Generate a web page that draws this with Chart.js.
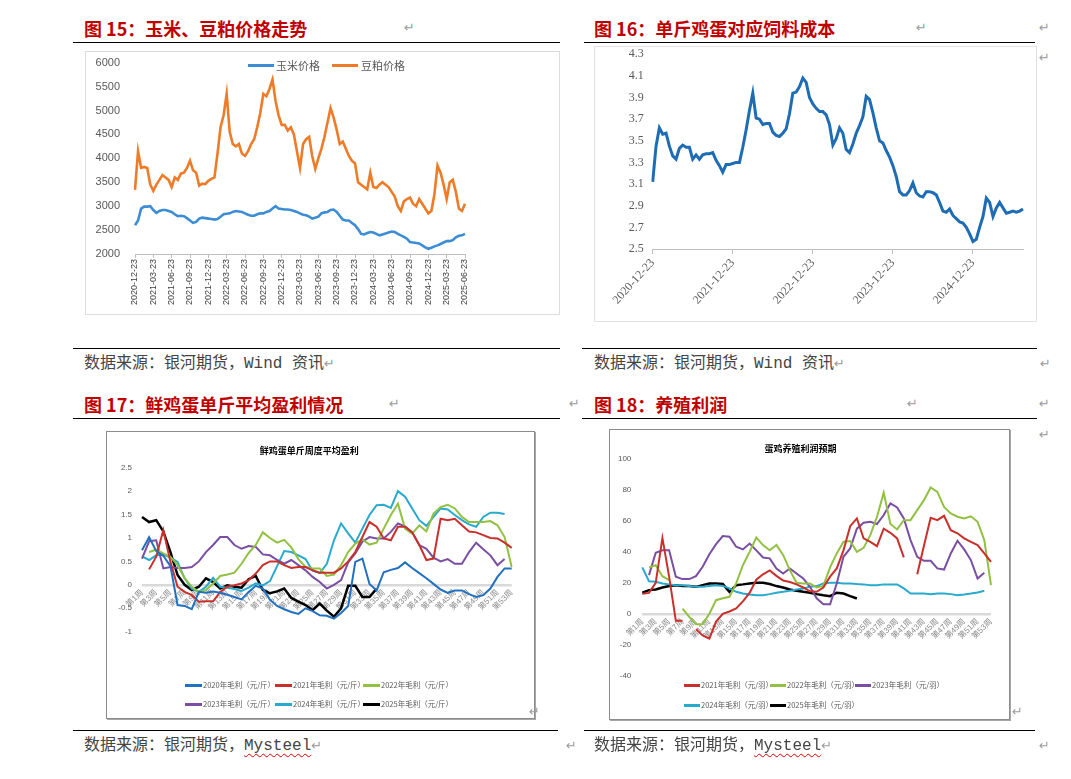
<!DOCTYPE html>
<html lang="zh">
<head>
<meta charset="utf-8">
<title>图15-18</title>
<script src="https://cdn.jsdelivr.net/npm/chart.js@4.4.1/dist/chart.umd.min.js"></script>
<style>
  body { margin: 0; background: #fff; }
  #page { position: relative; width: 1071px; height: 779px; overflow: hidden; font-family: "Noto Sans CJK SC", sans-serif; }
  .ttl { position: absolute; font-size: 18px; line-height: 24px; font-weight: bold; color: #c00000; white-space: nowrap; }
  .src { position: absolute; font-size: 16px; line-height: 22px; color: #444; white-space: nowrap; font-family: "Liberation Mono", "Noto Sans CJK SC", monospace; }
  .rule { position: absolute; height: 1px; background: #000; }
  .ret { position: absolute; font-size: 13px; line-height: 16px; color: #9b9b9b; font-family: "DejaVu Sans", sans-serif; }
  .src .ret { position: static; }
  .box { position: absolute; box-sizing: border-box; background: #fff; }
  .box canvas { display: block; }
  .lgl { position: absolute; height: 3px; }
  .lgt { position: absolute; color: #595959; white-space: nowrap; line-height: 12px; }
  .wavy { text-decoration: underline wavy #e00000; text-underline-offset: 3px; text-decoration-thickness: 1px; }
</style>
</head>
<body>
<div id="page">
  <!-- 上排 -->
  <div class="ttl" style="left:84px;top:16px">图 15：玉米、豆粕价格走势</div>
  <div class="ttl" style="left:594px;top:16px">图 16：单斤鸡蛋对应饲料成本</div>
  <div class="ret" style="left:404px;top:20px">↵</div>
  <div class="ret" style="left:916px;top:20px">↵</div>
  <div class="ret" style="left:1039px;top:20px">↵</div>
  <div class="ret" style="left:1039px;top:50px">↵</div>
  <div class="rule" style="left:73px;top:42px;width:487px"></div>
  <div class="rule" style="left:584px;top:42px;width:451px"></div>

  <div class="box" style="left:85px;top:51px;width:475px;height:264px;border:1px solid #dcdcdc">
    <canvas id="c15" width="473" height="262"></canvas>
  </div>
  <div class="box" style="left:594px;top:46px;width:443px;height:276px;border:1px solid #e2e2e2">
    <canvas id="c16" width="441" height="274"></canvas>
  </div>

  <div class="lgl" style="left:248px;top:63.5px;width:26px;background:#3c8dd6"></div>
  <div class="lgt" style="left:276px;top:59px;font-size:11px">玉米价格</div>
  <div class="lgl" style="left:332px;top:63.5px;width:26px;background:#ee7b28"></div>
  <div class="lgt" style="left:361px;top:59px;font-size:11px">豆粕价格</div>

  <div class="rule" style="left:73px;top:348px;width:487px"></div>
  <div class="rule" style="left:582px;top:348px;width:455px"></div>
  <div class="src" style="left:84px;top:353px">数据来源：银河期货，Wind 资讯<span class="ret">↵</span></div>
  <div class="src" style="left:594px;top:353px">数据来源：银河期货，Wind 资讯<span class="ret">↵</span></div>
  <div class="ret" style="left:1040px;top:356px">↵</div>

  <!-- 下排 -->
  <div class="ttl" style="left:84px;top:392px">图 17：鲜鸡蛋单斤平均盈利情况</div>
  <div class="ttl" style="left:594px;top:392px">图 18：养殖利润</div>
  <div class="ret" style="left:389px;top:396px">↵</div>
  <div class="ret" style="left:569px;top:396px">↵</div>
  <div class="ret" style="left:907px;top:396px">↵</div>
  <div class="ret" style="left:1039px;top:396px">↵</div>
  <div class="ret" style="left:1039px;top:427px">↵</div>
  <div class="rule" style="left:73px;top:418px;width:487px"></div>
  <div class="rule" style="left:582px;top:418px;width:455px"></div>

  <div class="box" style="left:106px;top:431px;width:429px;height:288px;border:1px solid #8c8c8c;box-shadow:1px 1px 0 #a6a6a6">
    <canvas id="c17" width="427" height="286"></canvas>
  </div>
  <div class="box" style="left:609px;top:429px;width:401px;height:291px;border:1px solid #8c8c8c;box-shadow:1px 1px 0 #a6a6a6">
    <canvas id="c18" width="399" height="289"></canvas>
  </div>
  <div class="ret" style="left:529px;top:704px">↵</div>
  <div class="ret" style="left:1012px;top:704px">↵</div>

  <div id="lg17"></div>
  <div id="lg18"></div>

  <div class="rule" style="left:73px;top:730px;width:485px"></div>
  <div class="rule" style="left:584px;top:730px;width:451px"></div>
  <div class="src" style="left:84px;top:735px">数据来源：银河期货，<span class="wavy">Mysteel</span><span class="ret">↵</span></div>
  <div class="src" style="left:594px;top:735px">数据来源：银河期货，<span class="wavy">Mysteel</span><span class="ret">↵</span></div>
  <div class="ret" style="left:566px;top:738px">↵</div>
  <div class="ret" style="left:1039px;top:738px">↵</div>
</div>

<script>
// 图15 玉米、豆粕（半月取点，2020-12-23 ~ 2025-06-23）
const quarterTicks = ['2020-12-23', '2021-03-23', '2021-06-23', '2021-09-23', '2021-12-23',
    '2022-03-23', '2022-06-23', '2022-09-23', '2022-12-23', '2023-03-23', '2023-06-23',
    '2023-09-23', '2023-12-23', '2024-03-23', '2024-06-23', '2024-09-23', '2024-12-23',
    '2025-03-23', '2025-06-23'];
const cornPrice = [2600, 2700, 2950, 2990, 2990, 3000, 2920, 2860, 2900, 2920,
    2920, 2900, 2880, 2830, 2790, 2800, 2790, 2750, 2700, 2650,
    2670, 2740, 2760, 2750, 2740, 2730, 2720, 2730, 2780, 2830,
    2840, 2850, 2880, 2900, 2890, 2880, 2850, 2820, 2800, 2800,
    2830, 2850, 2850, 2880, 2900, 2950, 3000, 2950, 2940, 2930,
    2930, 2920, 2900, 2880, 2850, 2820, 2810, 2780, 2740, 2760,
    2780, 2850, 2870, 2880, 2920, 2930, 2880, 2800, 2720, 2700,
    2700, 2650, 2600, 2520, 2420, 2410, 2440, 2460, 2450, 2420,
    2390, 2410, 2430, 2450, 2470, 2460, 2420, 2390, 2360, 2320,
    2250, 2240, 2230, 2220, 2180, 2140, 2110, 2130, 2160, 2180,
    2210, 2240, 2270, 2270, 2290, 2350, 2380, 2390, 2420];
const mealPrice = [3340, 4150, 3800, 3820, 3800, 3450, 3320, 3450, 3550, 3650,
    3600, 3550, 3400, 3600, 3550, 3680, 3700, 3800, 3950, 3750,
    3700, 3430, 3470, 3460, 3530, 3570, 3600, 4100, 4650, 4900,
    5350, 4550, 4300, 4250, 4300, 4100, 4050, 4150, 4300, 4400,
    4650, 4950, 5350, 5300, 5450, 5650, 5200, 4900, 4700, 4700,
    4580, 4650, 4500, 4150, 3800, 4300, 4400, 4450, 4050, 3780,
    4000, 4200, 4450, 4750, 5050, 4850, 4600, 4300, 4350, 4200,
    4050, 3950, 3900, 3500, 3450, 3400, 3350, 3700, 3400, 3380,
    3450, 3500, 3450, 3400, 3300, 3200, 3000, 2900, 3100, 3150,
    3180, 3050, 3000, 3150, 3050, 2950, 2850, 2900, 3250, 3850,
    3700, 3450, 3150, 3500, 3550, 3300, 2950, 2900, 3050];

// 图16 单斤鸡蛋饲料成本（半月取点）
const costTicks = ['2020-12-23', '2021-12-23', '2022-12-23', '2023-12-23', '2024-12-23'];
const eggFeedCost = [3.12, 3.45, 3.62, 3.56, 3.57, 3.45, 3.36, 3.33, 3.43, 3.46,
    3.44, 3.44, 3.33, 3.37, 3.33, 3.37, 3.38, 3.38, 3.39, 3.32,
    3.27, 3.21, 3.28, 3.28, 3.29, 3.3, 3.3, 3.44, 3.6, 3.78,
    3.94, 3.71, 3.7, 3.65, 3.66, 3.66, 3.58, 3.55, 3.54, 3.57,
    3.61, 3.75, 3.94, 3.95, 4.0, 4.08, 4.04, 3.9, 3.84, 3.8,
    3.77, 3.77, 3.74, 3.65, 3.46, 3.52, 3.62, 3.57, 3.42, 3.39,
    3.47, 3.57, 3.64, 3.72, 3.91, 3.88, 3.76, 3.62, 3.5, 3.48,
    3.41, 3.35, 3.27, 3.17, 3.03, 3.0, 3.0, 3.04, 3.11, 3.02,
    2.99, 2.98, 3.03, 3.03, 3.02, 3.0, 2.93, 2.85, 2.84, 2.87,
    2.81, 2.78, 2.75, 2.74, 2.7, 2.64, 2.57, 2.59, 2.7, 2.8,
    2.97, 2.93, 2.8, 2.88, 2.93, 2.88, 2.83, 2.84, 2.85, 2.84,
    2.85, 2.87];

// 周度
const weekLabels = ['第1周', '第2周', '第3周', '第4周', '第5周', '第6周', '第7周', '第8周', '第9周', '第10周',
    '第11周', '第12周', '第13周', '第14周', '第15周', '第16周', '第17周', '第18周', '第19周', '第20周',
    '第21周', '第22周', '第23周', '第24周', '第25周', '第26周', '第27周', '第28周', '第29周', '第30周',
    '第31周', '第32周', '第33周', '第34周', '第35周', '第36周', '第37周', '第38周', '第39周', '第40周',
    '第41周', '第42周', '第43周', '第44周', '第45周', '第46周', '第47周', '第48周', '第49周', '第50周',
    '第51周', '第52周', '第53周'];

// 图17 鲜鸡蛋单斤周度平均盈利（元/斤）
const profit2020 = [0.74, 1.02, 0.72, 0.62, 0.4, -0.43, -0.45, -0.52, -0.15, -0.17,
    -0.14, -0.17, -0.21, -0.26, -0.31, -0.15, -0.02, -0.08, -0.32, -0.45,
    -0.52, -0.58, -0.62, -0.5, -0.56, -0.65, -0.66, -0.72, -0.6, -0.45,
    0.49, 0.56, 0.02, -0.12, 0.27, 0.32, 0.36, 0.48, 0.36, 0.25,
    0.14, 0.02, -0.1, -0.17, -0.12, -0.12, -0.2, -0.26, -0.22, -0.08,
    0.17, 0.35, 0.35];
const profit2021 = [null, 0.33, 0.6, 1.17, 0.49, -0.04, -0.15, -0.22, -0.36, -0.35,
    -0.35, -0.15, -0.04, -0.01, 0.03, 0.1, 0.24, 0.42, 0.5, 0.5,
    0.42, 0.36, 0.38, 0.38, 0.31, 0.26, 0.26, 0.26, 0.35, 0.5,
    0.7, 1.02, 1.34, 1.24, 0.99, 0.95, 1.24, 1.24, 1.12, 0.85,
    0.53, 0.56, 1.41, 1.38, 1.41, 1.27, 1.14, 1.12, 1.06, 1.0,
    0.99, 0.9, 0.79];
const profit2022 = [null, 0.7, 0.75, 0.67, 0.6, 0.42, 0.14, -0.04, -0.15, -0.11,
    0.03, 0.19, 0.22, 0.26, 0.45, 0.68, 0.85, 1.12, 1.0, 0.9,
    0.96, 0.8, 0.55, 0.38, 0.35, 0.35, 0.19, 0.22, 0.42, 0.7,
    0.88, 0.97, 0.86, 0.9, 1.2, 1.49, 1.73, 1.2, 1.09, 1.27,
    1.14, 1.52, 1.66, 1.71, 1.63, 1.45, 1.34, 1.34, 1.34, 1.36,
    1.27, 1.02, 0.38];
const profit2023 = [0.56, 0.93, 0.95, 0.35, 0.38, 0.36, 0.36, 0.38, 0.5, 0.7,
    0.85, 1.02, 1.02, 0.85, 0.77, 0.83, 0.81, 0.65, 0.63, 0.53,
    0.45, 0.53, 0.42, 0.31, 0.17, 0.06, -0.08, 0.0, 0.1, 0.48,
    0.67, 0.92, 1.02, 0.99, 0.99, 1.13, 1.31, 1.25, 1.12, 0.85,
    0.77, 0.58, 0.5, 0.55, 0.45, 0.45, 0.7, 0.9, 0.76, 0.63,
    0.42, 0.55];
const profit2024 = [0.61, 0.53, 0.63, 0.65, 0.58, 0.49, 0.14, -0.08, -0.15, -0.04,
    0.15, -0.04, -0.06, -0.09, -0.13, -0.06, 0.03, -0.01, 0.08, 0.4,
    0.72, 0.7, 0.63, 0.55, 0.3, 0.25, 0.45, 0.95, 1.31, 1.1,
    0.9, 1.2, 1.49, 1.7, 1.71, 1.64, 2.0, 1.88, 1.63, 1.38,
    1.26, 1.45, 1.63, 1.61, 1.49, 1.38, 1.29, 1.24, 1.45, 1.54,
    1.54, 1.51];
const profit2025 = [1.45, 1.34, 1.38, 1.14, 0.7, 0.21, 0.0, -0.11, -0.04, 0.14,
    0.06, -0.08, -0.01, -0.04, -0.06, 0.12, 0.19, -0.11, -0.18, -0.14,
    -0.08, -0.28, -0.36, -0.43, -0.54, -0.4, -0.55, -0.68, -0.5, -0.02,
    -0.02, -0.26, -0.26, -0.08];

// 图18 蛋鸡养殖利润（元/羽）
const layer2021 = [13, 13.5, 20, 49, 24, -4.5, -4.5, null, -10, -14,
    -16, -5, 0, 1.5, 3.5, 8, 13.5, 22, 25.5, 28,
    24.5, 21.5, 20.5, 19, 17, 14.5, 14.2, 17, 24, 29.3,
    41, 56.6, 61.6, 48.7, 46.5, 43.7, 55, 52.3, 48.7, 36.4,
    null, 25.6, 44, 62, 60.5, 63.3, 54, 52, 48.7, 46.5,
    44.4, 39, 33.6];
const layer2022 = [null, 30, 31.4, 24.3, 21.8, null, 3.4, -2, -6.7, -6.7,
    0, 8.8, 10, 11, 19.6, 31.4, 40, 49.3, 44.4, 41,
    44.4, 38, 28.2, 20, 19.6, 19.6, 17, 18, 30, 39,
    46.5, 47, 40, 42.6, 50.8, 62.7, 78.2, 58, 54.5, 60.5,
    60.5, 67, 73.4, 81.6, 78.8, 69, 64.8, 62.7, 61.6, 63,
    59.4, 47.6, 18.5];
const layer2023 = [null, 25, 39.4, 41, 41, 24, 22.4, 22.4, 24.3, 30.4,
    38.5, 45, 50.2, 49.8, 43.3, 41.6, 45.4, 41, 36.4, 35.8,
    29.3, 26, 29.3, 26, 22.8, 17.4, 10, 6.2, 6.2, 19.6,
    36.8, 42.2, 55, 58.8, 59.4, 58, 63.8, 71.3, 68.7, 61.6,
    47.6, 36.8, 34.2, 34.2, 29.3, 28.6, 39, 47.2, 41.6, 34.7,
    22.8, 26.5];
const layer2024 = [30, 21, 20.7, 19.6, 19, 18.5, 18.5, 18, 17.4, 17.4,
    18, 18.5, 18, 16.4, 14.2, 13.1, 12.5, 12, 12, 12.7,
    13.6, 14.2, 14.9, 15.7, 16.4, 17.4, 17.9, 19.6, 20, 20,
    19.6, 19.6, 19.2, 19, 18.5, 18.5, 19, 19, 19, 16.4,
    13.1, 13.1, 13.1, 12.7, 13.1, 13.1, 12.7, 12, 12.5, 13.1,
    13.8, 14.9];
const layer2025 = [13.6, 15.3, 15.7, 17, 17.9, 18.5, 17.9, 17.9, 17.4, 18.5,
    19.6, 19.6, 19.2, 14.2, 18.5, 19, 19.6, 20, 20, 19.2,
    17.9, 17, 15.7, 14.9, 14.2, 13.6, 12.7, 12, 11.4, 13.6,
    13.1, 11.4, 9.9];

const yearColors = {
    2020: '#2270c0', 2021: '#c9302c', 2022: '#92c142',
    2023: '#7a4ea2', 2024: '#28a9ce', 2025: '#000000'
};

Chart.defaults.font.family = '"Liberation Sans", "Noto Sans CJK SC", sans-serif';
Chart.defaults.animation = false;
Chart.defaults.plugins.legend.display = false;
Chart.defaults.plugins.tooltip.enabled = false;
Chart.defaults.elements.point.radius = 0;
Chart.defaults.elements.line.tension = 0;

const serif = '"Liberation Serif", "Noto Sans CJK SC", serif';

// y轴标签与绘图区的间距用透明刻度线撑开，避免 ticks.padding 抬高绘图区顶部
const hiddenTickGap = gap => ({
    display: true, drawOnChartArea: false, drawTicks: true,
    tickLength: gap, color: 'rgba(0,0,0,0)'
});

// ---- 图15
const cornLabels = cornPrice.map((v, i) => (i % 6 === 0 ? quarterTicks[i / 6] : ''));
new Chart(document.getElementById('c15'), {
    type: 'line',
    data: {
        labels: cornLabels,
        datasets: [
            { label: '玉米价格', data: cornPrice, borderColor: '#3c8dd6', borderWidth: 2.6 },
            { label: '豆粕价格', data: mealPrice, borderColor: '#ee7b28', borderWidth: 2.6 }
        ]
    },
    options: {
        responsive: false,
        layout: { padding: { left: 0, right: 94, top: 10.7, bottom: 0 } },
        scales: {
            x: {
                ticks: { autoSkip: false, minRotation: 90, maxRotation: 90, padding: 1, color: '#404040', font: { size: 9 } },
                afterBuildTicks: s => { s.ticks = s.ticks.filter(t => t.value % 6 === 0); },
                afterFit: s => { s.height = 60; },
                grid: { drawOnChartArea: false, drawTicks: true, tickLength: 4, color: '#bfbfbf' },
                border: { color: '#bfbfbf' }
            },
            y: {
                min: 2000, max: 6000,
                ticks: { stepSize: 500, padding: 0, color: '#595959', font: { size: 11 }, callback: v => String(v) },
                afterFit: s => { s.width = 49; },
                grid: hiddenTickGap(15),
                border: { display: false }
            }
        }
    }
});

// ---- 图16
const costLabels = eggFeedCost.map((v, i) => (i % 24 === 0 ? costTicks[i / 24] : ''));
new Chart(document.getElementById('c16'), {
    type: 'line',
    data: {
        labels: costLabels,
        datasets: [{ label: '单斤鸡蛋饲料成本', data: eggFeedCost, borderColor: '#1e6cb4', borderWidth: 3 }]
    },
    options: {
        responsive: false,
        layout: { padding: { left: 0, right: 13, top: 6.3, bottom: 0 } },
        scales: {
            x: {
                ticks: { autoSkip: false, minRotation: 48, maxRotation: 48, padding: 2, color: '#595959', font: { family: serif, size: 12 } },
                afterBuildTicks: s => { s.ticks = s.ticks.filter(t => t.value % 24 === 0); },
                afterFit: s => { s.height = 72; },
                grid: { drawOnChartArea: false, drawTicks: true, tickLength: 5, color: '#bfbfbf' },
                border: { color: '#bfbfbf' }
            },
            y: {
                min: 2.5, max: 4.3,
                ticks: { stepSize: 0.2, padding: 0, color: '#595959', font: { family: serif, size: 12 }, callback: v => v.toFixed(1) },
                afterFit: s => { s.width = 57.7; },
                grid: hiddenTickGap(9),
                border: { display: false }
            }
        }
    }
});

// ---- 图17 / 图18 共用周度坐标
function weeklyChart(canvasId, title, series, yOpts, pad, titlePad) {
    return new Chart(document.getElementById(canvasId), {
        type: 'line',
        data: {
            labels: weekLabels,
            datasets: series.map(s => ({
                label: s.label, data: s.data, borderColor: s.color,
                borderWidth: s.color === '#000000' ? 2.5 : 2
            }))
        },
        options: {
            responsive: false,
            layout: { padding: pad },
            plugins: {
                title: {
                    display: true, text: title, color: '#000',
                    font: { size: 9, weight: 'bold', family: '"Noto Sans CJK SC", sans-serif' },
                    padding: titlePad
                }
            },
            scales: {
                x: {
                    position: { y: 0 },
                    ticks: { autoSkip: false, minRotation: 45, maxRotation: 45, padding: 3, color: '#8c8c8c', font: { size: 8 } },
                    afterBuildTicks: s => { s.ticks = s.ticks.filter(t => t.value % 2 === 0); },
                    grid: { display: false, drawTicks: false },
                    border: { display: false }
                },
                y: {
                    min: yOpts.min, max: yOpts.max,
                    ticks: { stepSize: yOpts.step, padding: yOpts.gap, color: '#595959', font: { size: 8 }, callback: v => String(+v.toFixed(1)) },
                    afterFit: s => { s.width = yOpts.width; },
                    grid: {
                        drawTicks: false, lineWidth: 2.5,
                        color: c => (c.tick && c.tick.value === 0 ? '#d9d9d9' : 'rgba(0,0,0,0)')
                    },
                    border: { display: false }
                }
            }
        }
    });
}

const eggSeries = [
    { label: '2020年毛利（元/斤）', data: profit2020, color: yearColors[2020] },
    { label: '2021年毛利（元/斤）', data: profit2021, color: yearColors[2021] },
    { label: '2022年毛利（元/斤）', data: profit2022, color: yearColors[2022] },
    { label: '2023年毛利（元/斤）', data: profit2023, color: yearColors[2023] },
    { label: '2024年毛利（元/斤）', data: profit2024, color: yearColors[2024] },
    { label: '2025年毛利（元/斤）', data: profit2025, color: yearColors[2025] }
];
weeklyChart('c17', '鲜鸡蛋单斤周度平均盈利', eggSeries,
    { min: -1, max: 2.5, step: 0.5, gap: 10, width: 35 },
    { left: 0, right: 22.3, top: 0, bottom: 86.3 },
    { top: 13.6, bottom: 11.3 });

const layerSeries = [
    { label: '2021年毛利（元/羽）', data: layer2021, color: yearColors[2021] },
    { label: '2022年毛利（元/羽）', data: layer2022, color: yearColors[2022] },
    { label: '2023年毛利（元/羽）', data: layer2023, color: yearColors[2023] },
    { label: '2024年毛利（元/羽）', data: layer2024, color: yearColors[2024] },
    { label: '2025年毛利（元/羽）', data: layer2025, color: yearColors[2025] }
];
weeklyChart('c18', '蛋鸡养殖利润预期', layerSeries,
    { min: -40, max: 100, step: 20, gap: 11, width: 32.3 },
    { left: 0, right: 18, top: 0, bottom: 43.3 },
    { top: 13.6, bottom: 4.6 });

// 图例（两行，按原图排布）
function addLegend(holderId, series, cols, rows, lineW) {
    const holder = document.getElementById(holderId);
    series.forEach((s, i) => {
        const x = cols[i % 3], y = rows[Math.floor(i / 3)];
        const l = document.createElement('div');
        l.className = 'lgl';
        l.style.cssText = `left:${x}px;top:${y - 1.5}px;width:${lineW}px;background:${s.color}`;
        const t = document.createElement('div');
        t.className = 'lgt';
        t.style.cssText = `left:${x + lineW + 1}px;top:${y - 6}px;font-size:7.5px`;
        t.textContent = s.label;
        holder.appendChild(l);
        holder.appendChild(t);
    });
}
addLegend('lg17', eggSeries, [185, 275, 363], [685, 704], 17);
addLegend('lg18', layerSeries, [684, 770, 855], [685, 705], 16);
</script>
</body>
</html>
